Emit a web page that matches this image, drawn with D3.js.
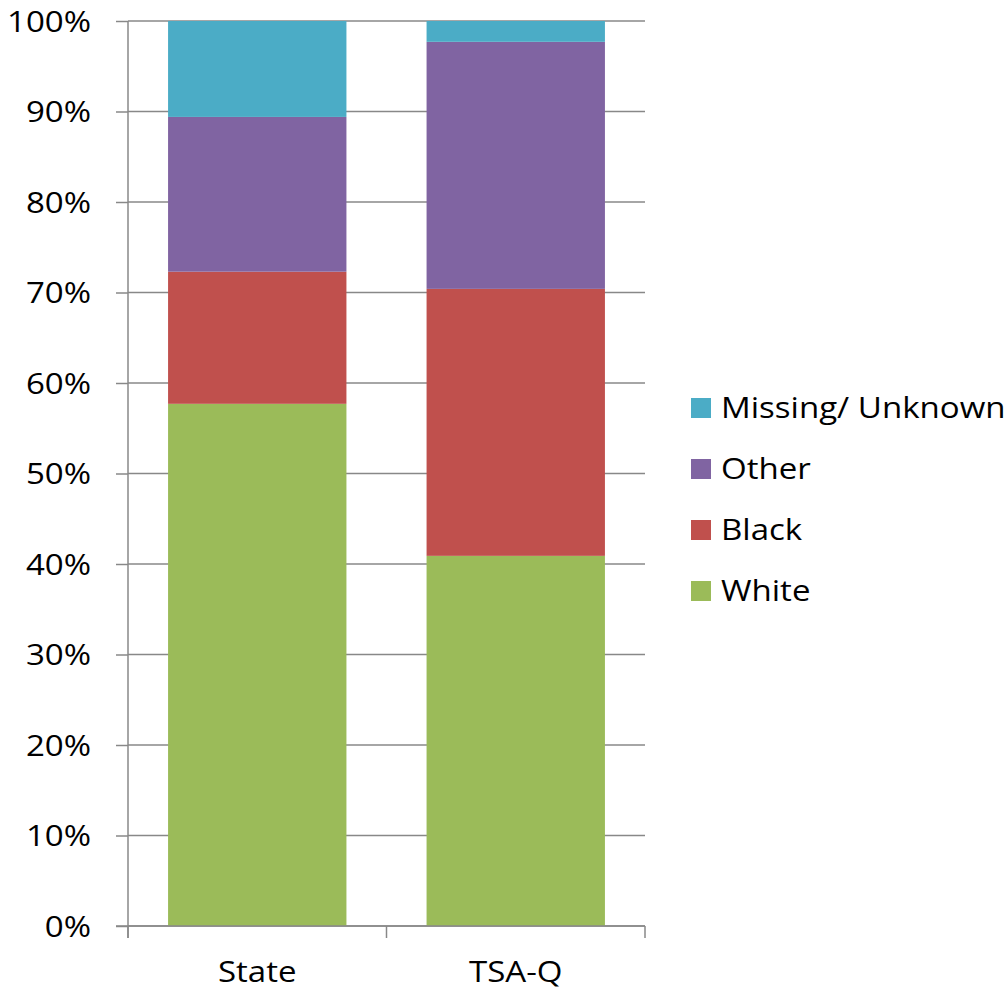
<!DOCTYPE html>
<html><head><meta charset="utf-8">
<script src="https://cdn.jsdelivr.net/npm/d3@7"></script>
<style>body{margin:0;background:#fff}svg{display:block}text{font-family:"Open Sans",Lato,sans-serif}</style>
</head><body><svg id="c" width="1006" height="990"></svg>
<script>
const categories = ["State", "TSA-Q"];
const seriesNames = ["White", "Black", "Other", "Missing/ Unknown"];
const white = [57.7, 40.9];
const black = [14.6, 29.5];
const other = [17.1, 27.3];
const missing = [10.6, 2.3];
const colors = ["#9BBB59", "#C0504D", "#8064A2", "#4BACC6"];
const yTicks = [0,10,20,30,40,50,60,70,80,90,100];

const svg = d3.select("#c");
const x0 = 128, x1 = 645, yTop = 21, yBot = 926;
const FONT = "'Open Sans',Lato,sans-serif";
const FS = 29, SX = 1.14;
const x = d3.scaleBand().domain(categories).range([x0, x1]).paddingInner(0.31).paddingOuter(0.155);
const y = d3.scaleLinear().domain([0,100]).range([yBot, yTop]);

const rows = categories.map((c,i)=>({cat:c, White:white[i], Black:black[i], Other:other[i], "Missing/ Unknown":missing[i]}));
const stack = d3.stack().keys(seriesNames)(rows);

svg.append("g").selectAll("line").data(yTicks).join("line")
  .attr("x1", x0).attr("x2", x1).attr("y1", d=>y(d)).attr("y2", d=>y(d))
  .attr("stroke", "#888").attr("stroke-width", 1.5);

svg.append("g").selectAll("g").data(stack).join("g")
  .attr("fill", (d,i)=>colors[i])
  .selectAll("rect").data(d=>d).join("rect")
  .attr("x", d=>x(d.data.cat)).attr("width", x.bandwidth())
  .attr("y", d=>y(Math.min(d[1],100))).attr("height", d=>y(d[0])-y(Math.min(d[1],100)));

const ya = svg.append("g").attr("transform", `translate(${x0},0)`)
  .call(d3.axisLeft(y).tickValues(yTicks).tickFormat(d=>d+"%").tickSize(12));
ya.select(".domain").attr("stroke", "#888").attr("stroke-width", 1.5).attr("d", `M0,${yTop}V${yBot+12}`);
ya.selectAll(".tick line").attr("stroke", "#888").attr("stroke-width", 1.5);
ya.selectAll("text").attr("font-size", FS).attr("fill", "#000").attr("font-family", FONT)
  .attr("dy", "0.36em").attr("x", -37/SX).attr("transform", `scale(${SX},1)`);

svg.append("line").attr("x1", x0-12).attr("x2", x1).attr("y1", yBot).attr("y2", yBot).attr("stroke", "#888").attr("stroke-width", 1.5);
const xb = [x0, (x0+x1)/2, x1];
svg.append("g").selectAll("line").data(xb).join("line")
  .attr("x1", d=>d).attr("x2", d=>d).attr("y1", yBot).attr("y2", yBot+12)
  .attr("stroke", "#888").attr("stroke-width", 1.5);
svg.append("g").selectAll("text").data(categories).join("text")
  .attr("transform", d=>`translate(${x(d)+x.bandwidth()/2},982) scale(${SX},1)`)
  .attr("text-anchor", "middle")
  .attr("font-size", FS).attr("fill", "#000").attr("font-family", FONT).text(d=>d);

const legendOrder = ["Missing/ Unknown", "Other", "Black", "White"];
const lg = svg.append("g").selectAll("g").data(legendOrder).join("g")
  .attr("transform", (d,i)=>`translate(691,${408 + i*61})`);
lg.append("rect").attr("x", 0).attr("y", -10).attr("width", 20).attr("height", 20)
  .attr("fill", d=>colors[seriesNames.indexOf(d)]);
lg.append("text").attr("transform", `translate(30,0) scale(${SX},1)`).attr("dy", "0.36em")
  .attr("font-size", FS).attr("fill", "#000").attr("font-family", FONT).text(d=>d);
</script></body></html>
